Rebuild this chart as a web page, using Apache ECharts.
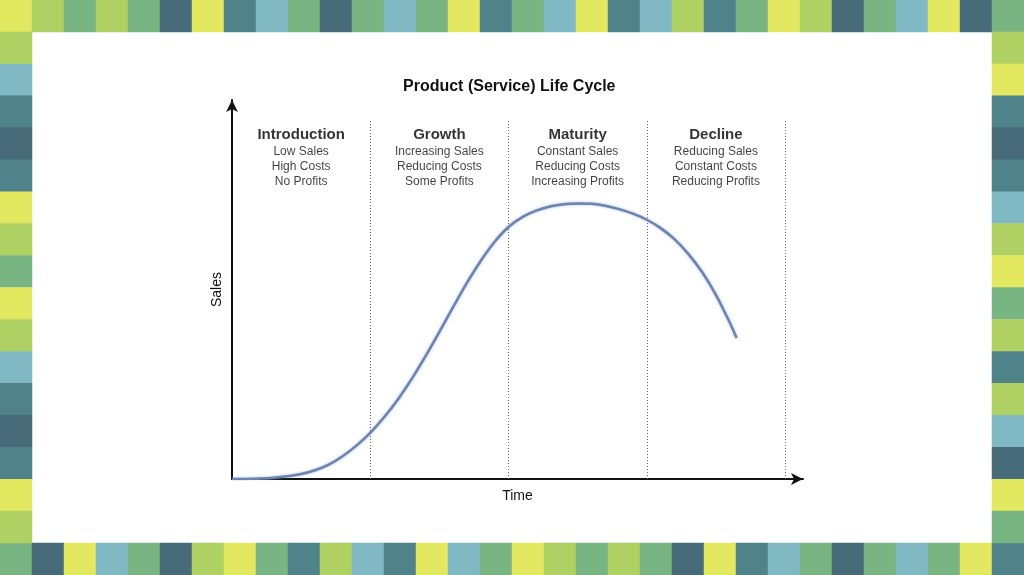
<!DOCTYPE html>
<html>
<head>
<meta charset="utf-8">
<title>Product (Service) Life Cycle</title>
<script src="https://cdn.jsdelivr.net/npm/echarts@6/dist/echarts.min.js"></script>
<style>
  html, body { margin: 0; padding: 0; background: #fff; }
  #chart { width: 1024px; height: 575px; }
</style>
</head>
<body>
<div id="chart"></div>
<script>
// curve: x in stage units (0..4), y in % of axis height
const timeX  = [0, 0.1, 0.2, 0.3, 0.4, 0.5, 0.6, 0.7, 0.8, 0.9, 1.0, 1.1, 1.2, 1.3, 1.4, 1.5, 1.6, 1.7, 1.8, 1.9,
                2.0, 2.1, 2.2, 2.3, 2.4, 2.5, 2.6, 2.7, 2.8, 2.9, 3.0, 3.1, 3.2, 3.3, 3.4, 3.5, 3.6, 3.65];
const salesY = [0, 0, 0.1, 0.3, 0.7, 1.3, 2.3, 3.8, 6.0, 8.8, 12.2, 16.3, 21.0, 26.4, 32.4, 38.8, 45.4, 51.8, 57.6, 62.6,
                66.5, 69.1, 70.8, 71.9, 72.5, 72.7, 72.6, 72.1, 71.2, 70.0, 68.4, 66.2, 63.3, 59.4, 54.6, 48.6, 41.3, 37.2];

const stageNames   = ['Introduction', 'Growth', 'Maturity', 'Decline'];
const stageNotes   = [
  ['Low Sales', 'High Costs', 'No Profits'],
  ['Increasing Sales', 'Reducing Costs', 'Some Profits'],
  ['Constant Sales', 'Reducing Costs', 'Increasing Profits'],
  ['Reducing Sales', 'Constant Costs', 'Reducing Profits'],
];
const stageCenters = [0.5, 1.5, 2.5, 3.5];
const stageBounds  = [1, 2, 3, 4];

// decorative frame tiles (Y yellow, L lime, G green, D dark teal, T teal, B light blue)
const topRow    = 'Y L G L G D Y T B G D G B G Y T G B Y T B L T G Y L D G B Y D G'.split(' ');
const bottomRow = 'G D Y B G D L Y G T L B T Y B G Y L G L G D Y T B G D G B G Y T'.split(' ');
const leftCol   = 'L B T D T Y L G Y L B T D T Y L'.split(' ');
const rightCol  = 'L Y T D T B L Y G L T L B D Y G'.split(' ');
const tileKeys   = ['Y', 'L', 'G', 'D', 'T', 'B'];
const tileColors = ['#e2e85f', '#afd062', '#79b582', '#476b78', '#50828a', '#80b8c4'];

const tiles = [];
topRow.forEach((k, i) => tiles.push([i, 0, tileKeys.indexOf(k)]));
bottomRow.forEach((k, i) => tiles.push([i, 17, tileKeys.indexOf(k)]));
leftCol.forEach((k, i) => tiles.push([0, i + 1, tileKeys.indexOf(k)]));
rightCol.forEach((k, i) => tiles.push([31, i + 1, tileKeys.indexOf(k)]));

const chart = echarts.init(document.getElementById('chart'));
const font = '"Liberation Sans", Arial, Helvetica, sans-serif';

chart.setOption({
  backgroundColor: '#fff',
  animation: false,
  title: {
    text: 'Product (Service) Life Cycle',
    left: 403, top: 79, padding: 0,
    textStyle: { fontSize: 16, fontWeight: 'bold', color: '#111', fontFamily: font },
  },
  visualMap: {
    type: 'piecewise', show: false, seriesIndex: 2, dimension: 2,
    pieces: tileColors.map((c, i) => ({ value: i, color: c })),
  },
  grid: [
    { left: 232, right: 221, top: 100, bottom: 96 },
    { left: 0, right: -3, top: 0, bottom: 0 },
  ],
  xAxis: [
    {
      type: 'value', min: 0, max: 4.13,
      name: 'Time', nameLocation: 'middle', nameGap: 10,
      nameTextStyle: { fontSize: 14, color: '#111', fontFamily: font },
      axisLine: { lineStyle: { color: '#111', width: 2 }, symbol: ['none', 'arrow'], symbolSize: [9, 12] },
      axisTick: { show: false }, axisLabel: { show: false }, splitLine: { show: false },
    },
    { type: 'category', gridIndex: 1, data: topRow.map((_, i) => i), show: false },
  ],
  yAxis: [
    {
      type: 'value', min: 0, max: 100,
      name: 'Sales', nameLocation: 'middle', nameGap: 8, nameRotate: 90,
      nameTextStyle: { fontSize: 14, color: '#111', fontFamily: font },
      axisLine: { lineStyle: { color: '#111', width: 2 }, symbol: ['none', 'arrow'], symbolSize: [9, 12] },
      axisTick: { show: false }, axisLabel: { show: false }, splitLine: { show: false },
    },
    { type: 'category', gridIndex: 1, inverse: true, data: Array.from({ length: 18 }, (_, i) => i), show: false },
  ],
  series: [
    {
      type: 'scatter', name: 'stages',
      symbolSize: 1, itemStyle: { color: '#fff' }, silent: true,
      data: stageCenters.map(x => [x, 93.3]),
      label: {
        show: true, position: 'bottom', distance: 0, align: 'center',
        color: '#111', fontFamily: font,
        formatter: p => `{t|${stageNames[p.dataIndex]}}\n` + stageNotes[p.dataIndex].map(s => `{n|${s}}`).join('\n'),
        rich: {
          t: { fontSize: 15, fontWeight: 'bold', color: '#000', lineHeight: 18, fontFamily: font, align: 'center' },
          n: { fontSize: 12, color: '#111', lineHeight: 15, fontFamily: font, align: 'center' },
        },
      },
      markLine: {
        silent: true, symbol: ['none', 'none'], label: { show: false },
        lineStyle: { type: [1, 2], color: '#666', width: 1, opacity: 1 },
        data: stageBounds.map(b => [{ coord: [b, 0] }, { coord: [b, 94.7] }]),
      },
    },
    {
      type: 'line', name: 'Sales',
      data: timeX.map((x, i) => [x, salesY[i]]),
      smooth: 0.3, symbol: 'none', silent: true,
      lineStyle: { color: '#6b83ad', width: 2.5, shadowColor: 'rgba(110,140,200,0.6)', shadowBlur: 3 },
      z: 5,
    },
    {
      type: 'heatmap', xAxisIndex: 1, yAxisIndex: 1,
      data: tiles, silent: true,
      itemStyle: { borderWidth: 0 },
      emphasis: { disabled: true },
    },
  ],
});
</script>
</body>
</html>
